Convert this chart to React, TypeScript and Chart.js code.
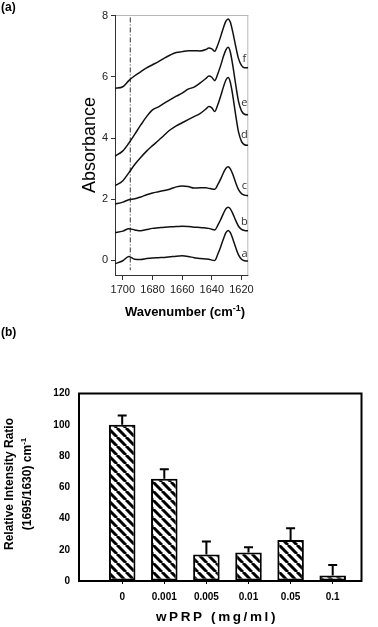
import React, { useEffect, useRef } from 'react';
import { Chart, registerables } from 'chart.js';
Chart.register(...registerables);

// ---------- Panel (a): FTIR spectra ----------
const wavenumbers = [1705.5, 1700, 1696, 1692, 1688, 1684, 1680, 1676, 1672, 1668, 1664, 1660, 1656, 1652, 1648, 1644, 1642, 1640, 1638, 1636, 1634, 1632, 1630.5, 1629, 1627.5, 1626, 1624, 1622, 1620, 1618, 1615.5];
const spectrumA = [-0.12, -0.02, 0.12, 0.03, 0.02, 0.05, 0.07, 0.08, 0.09, 0.11, 0.13, 0.14, 0.12, 0.08, 0.05, 0.04, 0.03, 0.0, -0.01, 0.19, 0.44, 0.72, 0.9, 0.97, 0.9, 0.72, 0.43, 0.17, 0.03, -0.02, -0.03];
const spectrumB = [0.9, 0.95, 1.03, 0.99, 0.96, 1.0, 1.04, 1.06, 1.08, 1.09, 1.1, 1.11, 1.1, 1.08, 1.07, 1.05, 1.04, 1.01, 0.99, 1.14, 1.33, 1.55, 1.68, 1.73, 1.68, 1.54, 1.31, 1.11, 1.01, 0.97, 0.96];
const spectrumC = [1.83, 1.9, 1.98, 2.01, 2.07, 2.14, 2.2, 2.24, 2.28, 2.33, 2.4, 2.43, 2.41, 2.36, 2.37, 2.37, 2.35, 2.33, 2.32, 2.47, 2.66, 2.88, 3.01, 3.06, 2.99, 2.83, 2.55, 2.31, 2.18, 2.13, 2.11];
const spectrumD = [2.43, 2.6, 2.86, 3.13, 3.36, 3.57, 3.75, 3.92, 4.1, 4.27, 4.4, 4.5, 4.6, 4.7, 4.8, 4.95, 5.03, 4.99, 4.87, 5.09, 5.38, 5.7, 5.9, 5.98, 5.82, 5.43, 4.78, 4.2, 3.89, 3.78, 3.76];
const spectrumE = [3.4, 3.58, 3.83, 4.12, 4.42, 4.7, 4.92, 5.02, 5.14, 5.26, 5.37, 5.47, 5.6, 5.67, 5.8, 5.95, 6.03, 5.99, 5.88, 6.1, 6.38, 6.7, 6.89, 6.97, 6.81, 6.42, 5.78, 5.2, 4.89, 4.78, 4.76];
const spectrumF = [5.63, 5.68, 5.88, 6.04, 6.17, 6.3, 6.4, 6.5, 6.62, 6.72, 6.8, 6.83, 6.86, 6.86, 6.85, 6.9, 6.95, 6.92, 6.84, 7.05, 7.33, 7.64, 7.83, 7.9, 7.79, 7.5, 7.03, 6.6, 6.38, 6.3, 6.3];
const spectra = [spectrumA, spectrumB, spectrumC, spectrumD, spectrumE, spectrumF];
const curveLabels = ['a', 'b', 'c', 'd', 'e', 'f'];
const curveLabelY = [0.21, 1.26, 2.42, 4.1, 5.16, 6.6];
const curveLabelX = 1618;
const markerWavenumber = 1695;
const markerRange = [7.95, -0.33];
const xTicksA = [1700, 1680, 1660, 1640, 1620];
const yTicksA = [0, 2, 4, 6, 8];

// ---------- Panel (b): bar chart ----------
const concentrations = ['0', '0.001', '0.005', '0.01', '0.05', '0.1'];
const ratioValues = [100, 65.5, 17, 18.3, 26.2, 3.5];
const ratioErrors = [6, 6, 8.3, 3.3, 7.5, 6.7];
const yTicksB = [0, 20, 40, 60, 80, 100, 120];

const SANS = '"Liberation Sans", Arial, sans-serif';
const NARROW = '"Liberation Sans Narrow", "Arial Narrow", "Liberation Sans", Arial, sans-serif';

function makeHatch(): CanvasPattern | string {
  const s = 9;
  const c = document.createElement('canvas');
  c.width = s; c.height = s;
  const g = c.getContext('2d');
  if (!g) return '#fff';
  g.fillStyle = '#fff';
  g.fillRect(0, 0, s, s);
  g.strokeStyle = '#000';
  g.lineWidth = 3;
  g.beginPath();
  for (const k of [-s, 0, s]) {
    g.moveTo(k, 0);
    g.lineTo(k + s, s);
  }
  g.stroke();
  return g.createPattern(c, 'repeat') || '#fff';
}

const panelAPlugin = {
  id: 'panelA',
  beforeDatasetsDraw(chart: any) {
    const { ctx, chartArea: ca } = chart;
    ctx.save();
    ctx.lineWidth = 1;
    ctx.strokeStyle = '#b8b8b8';
    ctx.beginPath();
    ctx.moveTo(ca.left, ca.top + 0.5); ctx.lineTo(ca.right, ca.top + 0.5);
    ctx.moveTo(ca.right - 0.5, ca.top); ctx.lineTo(ca.right - 0.5, ca.bottom);
    ctx.stroke();
    ctx.strokeStyle = '#333';
    ctx.beginPath();
    ctx.moveTo(ca.left + 0.5, ca.top); ctx.lineTo(ca.left + 0.5, ca.bottom);
    ctx.moveTo(ca.left, ca.bottom - 0.5); ctx.lineTo(ca.right, ca.bottom - 0.5);
    ctx.stroke();
    ctx.restore();
  },
  afterDraw(chart: any) {
    const { ctx } = chart;
    const xs = chart.scales.x, ys = chart.scales.y;
    ctx.save();
    ctx.fillStyle = '#333';
    ctx.font = '11px "Open Sans", ' + SANS;
    ctx.textAlign = 'center';
    ctx.textBaseline = 'middle';
    curveLabels.forEach((t, i) => {
      ctx.fillText(t, xs.getPixelForValue(curveLabelX), ys.getPixelForValue(curveLabelY[i]));
    });
    ctx.fillStyle = '#000';
    ctx.font = 'bold 12px ' + SANS;
    ctx.textAlign = 'left';
    ctx.fillText('(a)', 1, 8);
    ctx.save();
    ctx.translate(90.5, 145);
    ctx.rotate(-Math.PI / 2);
    ctx.font = '18px ' + SANS;
    ctx.textAlign = 'center';
    ctx.fillText('Absorbance', 0, 0);
    ctx.restore();
    const main1 = 'Wavenumber (cm', sup = '-1', main2 = ')';
    ctx.font = 'bold 13px ' + SANS;
    const w1 = ctx.measureText(main1).width;
    const w3 = ctx.measureText(main2).width;
    ctx.font = 'bold 9px ' + SANS;
    const w2 = ctx.measureText(sup).width;
    const x0 = 185 - (w1 + w2 + w3) / 2;
    const base = 316;
    ctx.textAlign = 'left';
    ctx.textBaseline = 'alphabetic';
    ctx.font = 'bold 13px ' + SANS;
    ctx.fillText(main1, x0, base);
    ctx.font = 'bold 9px ' + SANS;
    ctx.fillText(sup, x0 + w1, base - 5);
    ctx.font = 'bold 13px ' + SANS;
    ctx.fillText(main2, x0 + w1 + w2, base);
    ctx.restore();
  },
};

const panelBPlugin = {
  id: 'panelB',
  afterDatasetsDraw(chart: any) {
    const { ctx, chartArea: ca } = chart;
    const ys = chart.scales.y;
    const meta = chart.getDatasetMeta(0);
    ctx.save();
    ctx.strokeStyle = '#000';
    ctx.lineWidth = 2;
    meta.data.forEach((el: any, i: number) => {
      const top = ys.getPixelForValue(ratioValues[i] + ratioErrors[i]);
      ctx.beginPath();
      ctx.moveTo(el.x, el.y);
      ctx.lineTo(el.x, top);
      ctx.moveTo(el.x - 4.5, top);
      ctx.lineTo(el.x + 4.5, top);
      ctx.stroke();
    });
    ctx.lineWidth = 2;
    ctx.strokeRect(ca.left, ca.top, ca.right - ca.left, ca.bottom - ca.top);
    ctx.restore();
  },
  afterDraw(chart: any) {
    const { ctx } = chart;
    ctx.save();
    ctx.fillStyle = '#000';
    ctx.textBaseline = 'middle';
    ctx.font = 'bold 12px ' + SANS;
    ctx.textAlign = 'left';
    ctx.fillText('(b)', 1, 12.5);
    ctx.save();
    ctx.translate(10, 164);
    ctx.rotate(-Math.PI / 2);
    ctx.textAlign = 'center';
    ctx.font = 'bold 12px ' + SANS;
    ctx.fillText('Relative Intensity Ratio', 0, 0);
    ctx.restore();
    ctx.save();
    ctx.translate(28, 164);
    ctx.rotate(-Math.PI / 2);
    const t1 = '(1695/1630) cm', t2 = '-1';
    ctx.font = 'bold 12px ' + SANS;
    const a1 = ctx.measureText(t1).width;
    ctx.font = 'bold 8px ' + SANS;
    const a2 = ctx.measureText(t2).width;
    const sx = -(a1 + a2) / 2;
    ctx.textAlign = 'left';
    ctx.font = 'bold 12px ' + SANS;
    ctx.fillText(t1, sx, 0);
    ctx.font = 'bold 8px ' + SANS;
    ctx.fillText(t2, sx + a1, -4);
    ctx.restore();
    ctx.save();
    (ctx as any).letterSpacing = '2.6px';
    ctx.font = 'bold 13.5px ' + SANS;
    ctx.textAlign = 'center';
    ctx.fillText('wPRP (mg/ml)', 217, 297.7);
    ctx.restore();
    ctx.restore();
  },
};

export default function App() {
  const refA = useRef<HTMLCanvasElement>(null);
  const refB = useRef<HTMLCanvasElement>(null);

  useEffect(() => {
    if (!refA.current || !refB.current) return;
    const lineDatasets: any[] = spectra.map((s, k) => ({
      label: curveLabels[k],
      data: wavenumbers.map((w, i) => ({ x: w, y: s[i] })),
      borderColor: '#111',
      borderWidth: 1.5,
      pointRadius: 0,
      cubicInterpolationMode: 'monotone',
      fill: false,
    }));
    lineDatasets.push({
      label: 'marker',
      data: markerRange.map((y) => ({ x: markerWavenumber, y })),
      borderColor: '#333',
      borderWidth: 1,
      borderDash: [5, 2, 1, 2],
      pointRadius: 0,
      fill: false,
    });

    const chartA = new Chart(refA.current, {
      type: 'line',
      data: { datasets: lineDatasets },
      options: {
        responsive: false,
        animation: false,
        devicePixelRatio: 1,
        layout: { padding: { left: 0, right: 129.7, top: 15, bottom: 0 } },
        plugins: { legend: { display: false }, tooltip: { enabled: false } },
        scales: {
          x: {
            type: 'linear',
            reverse: true,
            min: 1615.4,
            max: 1705.3,
            border: { display: false },
            grid: { drawOnChartArea: false, drawTicks: true, tickLength: 4, color: '#333', tickColor: '#333' },
            ticks: {
              color: '#222', font: { family: NARROW, size: 11 }, padding: 3, maxRotation: 0, autoSkip: false,
              callback: (v: any) => String(v),
            },
            afterBuildTicks: (s: any) => { s.ticks = xTicksA.map((v) => ({ value: v })); },
            afterFit: (s: any) => { s.height = 44; },
          },
          y: {
            type: 'linear',
            min: -0.52,
            max: 8.03,
            border: { display: false },
            grid: { drawOnChartArea: false, drawTicks: true, tickLength: 4, color: '#333', tickColor: '#333' },
            ticks: { color: '#222', font: { family: NARROW, size: 11 }, padding: 3, callback: (v: any) => String(v) },
            afterBuildTicks: (s: any) => { s.ticks = yTicksA.map((v) => ({ value: v })); },
            afterFit: (s: any) => { s.width = 115; },
          },
        },
      } as any,
      plugins: [panelAPlugin],
    });

    const chartB = new Chart(refB.current, {
      type: 'bar',
      data: {
        datasets: [{
          label: 'ratio',
          data: ratioValues.map((v, i) => ({ x: i, y: v })),
          backgroundColor: makeHatch() as any,
          borderColor: '#000',
          borderWidth: 2,
          borderSkipped: false,
          barPercentage: 0.63,
          categoryPercentage: 1,
        }],
      },
      options: {
        responsive: false,
        animation: false,
        devicePixelRatio: 1,
        layout: { padding: { left: 0, right: 16.5, top: 73.5, bottom: 0 } },
        plugins: { legend: { display: false }, tooltip: { enabled: false } },
        scales: {
          x: {
            type: 'linear',
            offset: false,
            min: -1.026,
            max: 5.684,
            border: { display: false },
            grid: { offset: false, drawOnChartArea: false, drawTicks: true, tickLength: 3, color: '#000', tickColor: '#000' },
            ticks: {
              color: '#000', font: { family: SANS, size: 10, weight: 'bold' }, padding: 7, maxRotation: 0, autoSkip: false,
              callback: (v: any) => concentrations[v] ?? '',
            },
            afterBuildTicks: (s: any) => { s.ticks = concentrations.map((_, i) => ({ value: i })); },
            afterFit: (s: any) => { s.height = 46; },
          },
          y: {
            type: 'linear',
            min: 0,
            max: 120,
            border: { display: false },
            grid: { drawOnChartArea: false, drawTicks: false },
            ticks: { color: '#000', font: { family: SANS, size: 10, weight: 'bold' }, padding: 9 },
            afterBuildTicks: (s: any) => { s.ticks = yTicksB.map((v) => ({ value: v })); },
            afterFit: (s: any) => { s.width = 79; },
          },
        },
      } as any,
      plugins: [panelBPlugin],
    });

    return () => { chartA.destroy(); chartB.destroy(); };
  }, []);

  return (
    <div style={{ position: 'absolute', left: 0, top: 0, width: 378, height: 627, background: '#fff' }}>
      <canvas ref={refA} width={378} height={320} style={{ position: 'absolute', left: 0, top: 0, width: 378, height: 320 }} />
      <canvas ref={refB} width={378} height={307} style={{ position: 'absolute', left: 0, top: 320, width: 378, height: 307 }} />
    </div>
  );
}
